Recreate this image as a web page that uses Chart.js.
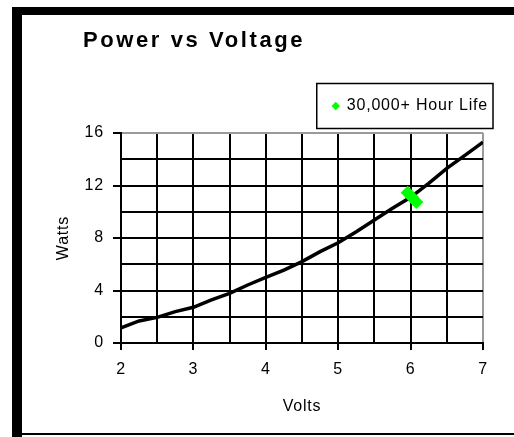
<!DOCTYPE html>
<html><head><meta charset="utf-8">
<script src="https://cdn.jsdelivr.net/npm/chart.js@4.4.1/dist/chart.umd.min.js"></script>
<style>html,body{margin:0;padding:0;background:#fff;overflow:hidden}canvas{display:block}</style>
</head><body>
<canvas id="c" width="514" height="437"></canvas>
<script>
const chartTitle = 'Power vs Voltage';
const xAxisTitle = 'Volts';
const yAxisTitle = 'Watts';
const curveLabel = 'Power';
const lifeLabel = '30,000+ Hour Life';
const volts = [2.0, 2.25, 2.5, 2.75, 3.0, 3.25, 3.5, 3.75, 4.0, 4.25, 4.5, 4.75, 5.0, 5.25, 5.5, 5.75, 6.0, 6.25, 6.5, 6.75, 7.0];
const watts = [1.15, 1.68, 1.95, 2.39, 2.72, 3.28, 3.78, 4.42, 5.0, 5.56, 6.2, 6.96, 7.64, 8.48, 9.37, 10.26, 11.1, 12.17, 13.3, 14.3, 15.3];
const lifeVolts = [5.96, 6.02, 6.08];
const lifeWatts = [11.45, 11.1, 10.75];
const xTickLabels = [2, 3, 4, 5, 6, 7];
const yTickLabels = [0, 4, 8, 12, 16];

const FAMILY = '"Liberation Sans", Arial, sans-serif';
const font16 = {family: FAMILY, size: 16};
const LEGEND_PAD = 28;
const LEGEND_EXTRA = 9;
const LEGEND_TEXT_RIGHT = 488;
const SPACING = '0.8px';

const framePlugin = {
  id: 'frame',
  beforeUpdate(chart) { chart.ctx.letterSpacing = SPACING; },
  beforeLayout(chart) {
    const lg = chart.legend;
    if (lg && !lg._patched) {
      const fit = lg.fit;
      lg.fit = function () { fit.apply(this, arguments); this.height += LEGEND_EXTRA; };
      lg._patched = true;
    }
  },
  afterLayout(chart) {
    const lg = chart.legend;
    if (lg) {
      const shift = LEGEND_TEXT_RIGHT - (lg.right - LEGEND_PAD);
      lg.left += shift;
      lg.right += shift;
    }
  },
  beforeDraw(chart) {
    const c = chart.ctx;
    c.save();
    c.fillStyle = '#fff';
    c.fillRect(0, 0, chart.width, chart.height);
    c.fillStyle = '#000';
    c.fillRect(12, 7, 502, 8);
    c.fillRect(12, 7, 10, 430);
    c.fillRect(12, 433, 502, 2);
    c.restore();
    c.letterSpacing = SPACING;
  },
  afterDraw(chart) {
    const c = chart.ctx;
    c.save();
    c.letterSpacing = '2.6px';
    c.font = 'bold 22px ' + FAMILY;
    c.fillStyle = '#000';
    c.textAlign = 'left';
    c.textBaseline = 'alphabetic';
    c.fillText(chartTitle, 83, 47);
    const lg = chart.legend;
    if (lg && lg.legendHitBoxes && lg.legendHitBoxes.length) {
      const h = lg.legendHitBoxes[0];
      const cy = h.top + h.height / 2;
      const right = LEGEND_TEXT_RIGHT + 5;
      const w = h.width + 21;
      c.strokeStyle = '#000';
      c.lineWidth = 1.5;
      c.strokeRect(right - w, cy - 22.5, w, 45);
    }
    c.restore();
  }
};

new Chart(document.getElementById('c'), {
  type: 'scatter',
  data: {
    datasets: [
      {
        label: curveLabel,
        data: volts.map((v, i) => ({x: v, y: watts[i]})),
        showLine: true,
        borderColor: '#000',
        backgroundColor: '#000',
        borderWidth: 3.5,
        pointRadius: 0,
        order: 2
      },
      {
        label: lifeLabel,
        data: lifeVolts.map((v, i) => ({x: v, y: lifeWatts[i]})),
        showLine: false,
        pointStyle: 'rectRot',
        pointRadius: 7,
        backgroundColor: '#00ff00',
        borderColor: '#00ff00',
        borderWidth: 0,
        order: 1
      }
    ]
  },
  options: {
    responsive: false,
    animation: false,
    devicePixelRatio: 1,
    layout: {padding: {left: 40, right: 31, top: 70, bottom: 17}},
    plugins: {
      title: {display: false},
      tooltip: {enabled: false},
      legend: {
        display: true,
        position: 'top',
        align: 'end',
        labels: {
          filter: item => item.datasetIndex === 1,
          usePointStyle: true,
          pointStyle: 'rectRot',
          boxWidth: 6,
          boxHeight: 6,
          padding: LEGEND_PAD,
          color: '#000',
          font: font16
        }
      }
    },
    scales: {
      x: {
        type: 'linear',
        min: 2, max: 7,
        ticks: {
          stepSize: 0.5, autoSkip: false, maxRotation: 0,
          callback: v => xTickLabels.includes(v) ? String(v) : '',
          color: '#000', font: font16, padding: 10
        },
        grid: {
          color: ctx => (ctx.tick && ctx.tick.value === 7) ? '#9a9a9a' : '#000',
          lineWidth: 2,
          tickLength: 7,
          tickColor: ctx => (ctx.tick && xTickLabels.includes(ctx.tick.value)) ? '#000' : 'rgba(0,0,0,0)'
        },
        border: {color: '#000', width: 2},
        title: {display: true, text: xAxisTitle, color: '#000', font: font16, padding: {top: 0, bottom: 4}},
        afterFit: s => { s.height = 77; }
      },
      y: {
        type: 'linear',
        min: 0, max: 16,
        ticks: {
          stepSize: 2, autoSkip: false,
          callback: v => yTickLabels.includes(v) ? String(v) : '',
          color: '#000', font: font16, padding: 9
        },
        grid: {
          color: ctx => (ctx.tick && ctx.tick.value === 16) ? '#9a9a9a' : '#000',
          lineWidth: 2,
          tickLength: 8,
          tickColor: ctx => (ctx.tick && yTickLabels.includes(ctx.tick.value)) ? '#000' : 'rgba(0,0,0,0)'
        },
        border: {color: '#000', width: 2},
        title: {display: true, text: yAxisTitle, color: '#000', font: font16, padding: {top: 14, bottom: 0}},
        afterFit: s => { s.width = 81; }
      }
    }
  },
  plugins: [framePlugin]
});
</script>
</body></html>
